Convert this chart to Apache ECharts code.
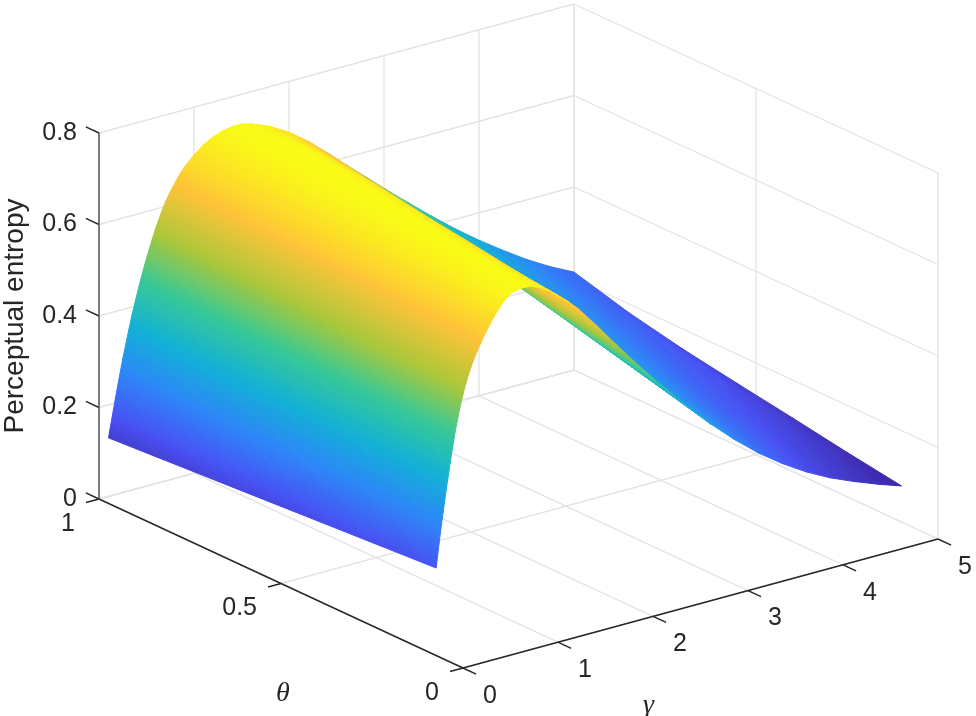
<!DOCTYPE html>
<html>
<head>
<meta charset="utf-8">
<script src="https://cdn.jsdelivr.net/npm/echarts@6/dist/echarts.min.js"></script>
<style>
  html, body { margin: 0; padding: 0; background: #fff; }
  #chart { width: 976px; height: 716px; }
</style>
</head>
<body>
<div id="chart"></div>
<script>
// tick labels of the three axes
var gammaTicks = [0, 1, 2, 3, 4, 5];
var thetaTicks = [0, 0.5, 1];
var entropyTicks = [0, 0.2, 0.4, 0.6, 0.8];

// surface samples
var gammaValues = [0.1, 0.15, 0.2, 0.25, 0.3, 0.35, 0.4, 0.45, 0.5, 0.55, 0.6, 0.65, 0.7, 0.75, 0.8, 0.85, 0.9, 1, 1.1, 1.2, 1.3, 1.4, 1.5, 1.6, 1.8, 2, 2.2, 2.4, 2.6, 2.8, 3, 3.25, 3.5, 3.75, 4, 4.25, 4.5, 4.75, 5];
var thetaValues = [0.1, 0.25, 0.4, 0.55, 0.7, 0.85, 1];
var entropyAt010 = [.176, .258, .332, .40, .462, .512, .553, .585, .611, .633, .653, .671, .688, .702, .716, .726, .733, .7375, .736, .727, .713, .696, .678, .657, .608, .556, .506, .458, .412, .368, .326, .278, .235, .198, .166, .139, .117, .097, .079];
var entropyAt025 = [.168, .246, .317, .382, .44, .49, .532, .565, .592, .615, .637, .656, .674, .688, .703, .713, .722, .732, .737, .733, .722, .708, .692, .674, .628, .58, .532, .485, .441, .398, .357, .309, .266, .228, .195, .166, .143, .121, .097];
var entropyAt040 = [.16, .234, .301, .364, .42, .468, .51, .543, .571, .597, .62, .641, .66, .677, .692, .702, .712, .726, .735, .737, .733, .722, .708, .692, .65, .604, .559, .513, .469, .428, .387, .34, .297, .258, .224, .194, .168, .145, .117];
var entropyAt055 = [.152, .222, .286, .346, .40, .447, .489, .523, .553, .58, .605, .627, .648, .665, .681, .692, .702, .719, .73, .736, .738, .733, .722, .708, .672, .628, .585, .54, .498, .458, .418, .372, .328, .289, .253, .222, .194, .169, .136];
var entropyAt070 = [.144, .209, .271, .328, .38, .428, .468, .503, .535, .563, .59, .613, .635, .653, .67, .681, .692, .711, .724, .733, .738, .738, .733, .722, .692, .652, .61, .567, .527, .487, .449, .403, .359, .319, .282, .249, .219, .193, .156];
var entropyAt085 = [.136, .197, .255, .31, .36, .407, .446, .483, .516, .547, .575, .6, .622, .641, .658, .671, .683, .702, .717, .728, .735, .738, .738, .733, .706, .673, .636, .595, .555, .517, .479, .434, .39, .349, .311, .277, .245, .216, .181];
var entropyAt100 = [.128, .185, .24, .292, .34, .385, .425, .463, .498, .53, .56, .586, .61, .629, .646, .662, .675, .696, .712, .724, .731, .735, .735, .73, .713, .689, .658, .622, .584, .547, .51, .465, .421, .379, .34, .304, .27, .24, .214];
var entropyRows = [entropyAt010, entropyAt025, entropyAt040, entropyAt055, entropyAt070, entropyAt085, entropyAt100];

// parula
var colorStops = [[62, 38, 168], [72, 82, 244], [45, 135, 247], [18, 177, 214], [55, 200, 151], [171, 199, 57], [254, 195, 56], [249, 251, 21]];
var colorMin = 0.079;
var colorMax = 0.738;

function colorOf(v) {
  var p = (v - colorMin) / (colorMax - colorMin);
  p = Math.max(0, Math.min(1, p)) * (colorStops.length - 1);
  var i = Math.min(Math.floor(p), colorStops.length - 2);
  var f = p - i;
  var a = colorStops[i], b = colorStops[i + 1];
  return 'rgb(' + Math.round(a[0] + (b[0] - a[0]) * f) + ',' + Math.round(a[1] + (b[1] - a[1]) * f) + ',' + Math.round(a[2] + (b[2] - a[2]) * f) + ')';
}

// orthographic view: box corner gamma=0, theta=0 sits at (463, 668)
function project(g, t, z) {
  return [463 + 95 * g - 364 * t, 668 - 25.8 * g - 169 * t - 457.5 * z];
}
function depth(g, t, z) {
  return -67.9 * g - 445 * t + 174 * z;
}

// two triangles per cell, far ones first so the near ones paint over them
var triangles = [];
for (var i = 0; i < gammaValues.length - 1; i++) {
  for (var j = 0; j < thetaValues.length - 1; j++) {
    var g0 = gammaValues[i], g1 = gammaValues[i + 1];
    var t0 = thetaValues[j], t1 = thetaValues[j + 1];
    var z00 = entropyRows[j][i], z10 = entropyRows[j][i + 1];
    var z01 = entropyRows[j + 1][i], z11 = entropyRows[j + 1][i + 1];
    triangles.push([g0, t0, z00, g1, t0, z10, g1, t1, z11]);
    triangles.push([g0, t0, z00, g1, t1, z11, g0, t1, z01]);
  }
}
function triDepth(d) {
  return depth((d[0] + d[3] + d[6]) / 3, (d[1] + d[4] + d[7]) / 3, (d[2] + d[5] + d[8]) / 3);
}
triangles.sort(function (a, b) { return triDepth(a) - triDepth(b); });

// fill whose colour runs linearly with entropy across the triangle
function triangleFill(p, c) {
  var lo = Math.min(c[0], c[1], c[2]);
  var hi = Math.max(c[0], c[1], c[2]);
  var ax = p[1][0] - p[0][0], ay = p[1][1] - p[0][1];
  var bx = p[2][0] - p[0][0], by = p[2][1] - p[0][1];
  var det = ax * by - bx * ay;
  if (Math.abs(det) < 0.3 || hi - lo < 1e-4) {
    return colorOf((c[0] + c[1] + c[2]) / 3);
  }
  var gx = ((c[1] - c[0]) * by - (c[2] - c[0]) * ay) / det;
  var gy = (ax * (c[2] - c[0]) - bx * (c[1] - c[0])) / det;
  var len2 = gx * gx + gy * gy;
  var s = p[c.indexOf(lo)];
  var k = (hi - lo) / len2;
  var stops = [];
  for (var n = 0; n <= 4; n++) {
    stops.push({ offset: n / 4, color: colorOf(lo + (hi - lo) * n / 4) });
  }
  return new echarts.graphic.LinearGradient(s[0], s[1], s[0] + gx * k, s[1] + gy * k, stops, true);
}

function renderTriangle(params, api) {
  var pts = [], vals = [];
  for (var n = 0; n < 3; n++) {
    var v = project(api.value(n * 3), api.value(n * 3 + 1), api.value(n * 3 + 2));
    pts.push(api.coord(v));
    vals.push(api.value(n * 3 + 2));
  }
  var fill = triangleFill(pts, vals);
  return {
    type: 'polygon',
    shape: { points: pts },
    style: { fill: fill, stroke: fill, lineWidth: 1 }
  };
}

function renderSegment(color, width) {
  return function (params, api) {
    var a = api.coord(project(api.value(0), api.value(1), api.value(2)));
    var b = api.coord(project(api.value(3), api.value(4), api.value(5)));
    return {
      type: 'line',
      shape: { x1: a[0], y1: a[1], x2: b[0], y2: b[1] },
      style: { stroke: color, lineWidth: width }
    };
  };
}

// box grid on the floor and the two back walls
var gridSegments = [];
entropyTicks.forEach(function (z) {
  gridSegments.push([0, 1, z, 5, 1, z], [5, 1, z, 5, 0, z]);
});
gammaTicks.forEach(function (g) {
  gridSegments.push([g, 0, 0, g, 1, 0], [g, 1, 0, g, 1, 0.8]);
});
thetaTicks.forEach(function (t) {
  gridSegments.push([0, t, 0, 5, t, 0], [5, t, 0, 5, t, 0.8]);
});

var axisSegments = [[0, 1, 0, 0, 0, 0], [0, 0, 0, 5, 0, 0]];
gammaTicks.forEach(function (g) {
  axisSegments.push([g, 0, 0, g, -0.036, 0]);
});
thetaTicks.forEach(function (t) {
  axisSegments.push([0, t, 0, -0.137, t, 0]);
});
entropyTicks.forEach(function (z) {
  axisSegments.push([0, 1, z, 0, 1.036, z]);
});

function renderLabel(dx, dy, align) {
  return function (params, api) {
    var p = api.coord(project(api.value(0), api.value(1), 0));
    return {
      type: 'text',
      style: {
        x: p[0] + dx, y: p[1] + dy, text: String(api.value(2)),
        fill: '#262626', font: '25px "Liberation Sans"', align: align, verticalAlign: 'middle'
      }
    };
  };
}

// axis names hang off the middle of their axes
function renderName(text, dx, dy) {
  return function (params, api) {
    var p = api.coord(project(api.value(0), api.value(1), 0));
    return {
      type: 'text',
      style: {
        x: p[0] + dx, y: p[1] + dy, text: text,
        fill: '#262626', font: 'italic 28px "Liberation Serif"', align: 'center', verticalAlign: 'middle'
      }
    };
  };
}

var chart = echarts.init(document.getElementById('chart'));
chart.setOption({
  animation: false,
  backgroundColor: '#fff',
  grid: [
    { left: 0, top: 0, right: 0, bottom: 0 },
    { left: 99, top: 133, width: 1, height: 366 }
  ],
  xAxis: [
    { type: 'value', gridIndex: 0, min: 0, max: 976, show: false },
    { type: 'value', gridIndex: 1, show: false }
  ],
  yAxis: [
    { type: 'value', gridIndex: 0, min: 0, max: 716, inverse: true, show: false },
    {
      type: 'value', gridIndex: 1, min: 0, max: 0.8, interval: 0.2, z: 5,
      name: 'Perceptual entropy', nameLocation: 'middle', nameGap: 70, nameRotate: 90,
      nameTextStyle: { fontFamily: 'Liberation Sans', fontSize: 28, color: '#262626' },
      axisLine: { show: true, lineStyle: { color: '#555', width: 1.5 } },
      axisTick: { show: false },
      splitLine: { show: false },
      axisLabel: {
        fontFamily: 'Liberation Sans', fontSize: 25, color: '#262626', margin: 22, padding: [0, 0, 14, 0],
        formatter: function (v) { return String(v); }
      }
    }
  ],
  series: [
    {
      type: 'custom', coordinateSystem: 'cartesian2d', xAxisIndex: 0, yAxisIndex: 0, z: 1, clip: false, silent: true,
      renderItem: renderSegment('#e3e3e3', 1.3), data: gridSegments
    },
    {
      type: 'custom', coordinateSystem: 'cartesian2d', xAxisIndex: 0, yAxisIndex: 0, z: 2, clip: false, silent: true,
      progressive: 0, renderItem: renderTriangle, data: triangles
    },
    {
      type: 'custom', coordinateSystem: 'cartesian2d', xAxisIndex: 0, yAxisIndex: 0, z: 3, clip: false, silent: true,
      renderItem: renderSegment('#262626', 1.4), data: axisSegments
    },
    {
      type: 'custom', coordinateSystem: 'cartesian2d', xAxisIndex: 0, yAxisIndex: 0, z: 3, clip: false, silent: true,
      renderItem: renderLabel(27, 28, 'center'),
      data: gammaTicks.map(function (g) { return [g, 0, g]; })
    },
    {
      type: 'custom', coordinateSystem: 'cartesian2d', xAxisIndex: 0, yAxisIndex: 0, z: 3, clip: false, silent: true,
      renderItem: renderLabel(-24, 25, 'right'),
      data: thetaTicks.map(function (t) { return [0, t, t]; })
    },
    {
      type: 'custom', coordinateSystem: 'cartesian2d', xAxisIndex: 0, yAxisIndex: 0, z: 3, clip: false, silent: true,
      renderItem: renderName('θ', 2, 110), data: [[0, 0.5]]
    },
    {
      type: 'custom', coordinateSystem: 'cartesian2d', xAxisIndex: 0, yAxisIndex: 0, z: 3, clip: false, silent: true,
      renderItem: renderName('γ', -52, 102), data: [[2.5, 0]]
    }
  ]
});
</script>
</body>
</html>
